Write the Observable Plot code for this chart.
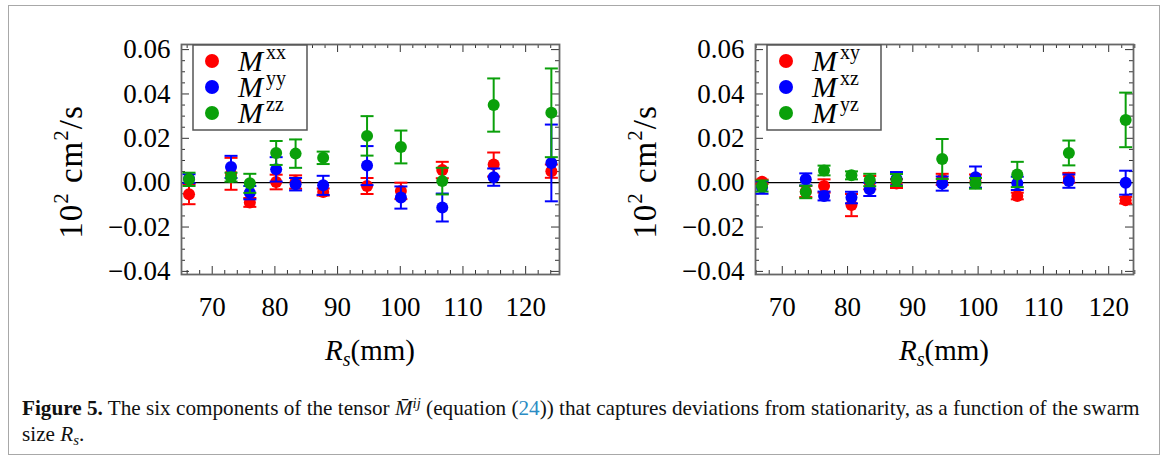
<!DOCTYPE html>
<html><head><meta charset="utf-8">
<script src="https://cdn.jsdelivr.net/npm/d3@7"></script>
<script src="https://cdn.jsdelivr.net/npm/@observablehq/plot@0.6"></script>
<style>
body{margin:0;background:#fff;}
#fig{position:relative;width:1168px;height:465px;overflow:hidden;font-family:"Liberation Serif",serif;background:#fff;}
#border{position:absolute;left:8px;top:5px;width:1150px;height:448px;border:1.5px solid #a8a8a8;}
.panel{position:absolute;top:0;}
#caption{position:absolute;left:22px;top:396px;font-size:21.2px;line-height:24px;color:#111;white-space:nowrap;}
#caption sup{font-size:0.7em;vertical-align:0;position:relative;top:-0.5em;}
#caption sub{font-size:0.7em;vertical-align:0;position:relative;top:0.25em;}
</style></head><body>
<div id="fig">
<div id="border"></div>
<div id="left" class="panel" style="left:0px"></div>
<div id="right" class="panel" style="left:580px"></div>
<div id="caption"><b>Figure 5.</b> The six components of the tensor <i>M̄</i><sup><i>ij</i></sup> (equation (<span style="color:#2b8cc4">24</span>)) that captures deviations from stationarity, as a function of the swarm<br>size <i>R<sub>s</sub></i>.</div>
</div>
<script>
// ---- data ----
const RsLeft  = [66.3, 73.0, 76.0, 80.2, 83.3, 87.7, 94.7, 100.1, 106.7, 114.9, 124.1];
const RsRight = [66.9, 73.6, 76.4, 80.6, 83.4, 87.5, 94.5, 99.6, 106.0, 113.9, 122.6];

const Mxx    = [-0.0052, 0.0040, -0.0089, 0.0003, 0.0003, -0.0042, -0.0015, -0.0037, 0.0057, 0.0082, 0.0052];
const MxxErr = [0.0045, 0.0072, 0.0020, 0.0033, 0.0030, 0.0016, 0.0036, 0.0037, 0.0037, 0.0054, 0.0030];
const Myy    = [0.0018, 0.0071, -0.0045, 0.0060, -0.0007, -0.0012, 0.0077, -0.0067, -0.0112, 0.0025, 0.0089];
const MyyErr = [0.0020, 0.0050, 0.0030, 0.0055, 0.0028, 0.0043, 0.0088, 0.0050, 0.0063, 0.0039, 0.0173];
const Mzz    = [0.0015, 0.0025, -0.0003, 0.0134, 0.0131, 0.0112, 0.0211, 0.0161, 0.0007, 0.0350, 0.0315];
const MzzErr = [0.0030, 0.0020, 0.0043, 0.0054, 0.0064, 0.0028, 0.0089, 0.0074, 0.0060, 0.0120, 0.0200];

const Mxy    = [0.0004, -0.0040, -0.0015, -0.0101, 0.0000, -0.0004, 0.0015, 0.0007, -0.0060, 0.0022, -0.0079];
const MxyErr = [0.0010, 0.0025, 0.0030, 0.0050, 0.0030, 0.0020, 0.0025, 0.0030, 0.0015, 0.0022, 0.0015];
const Mxz    = [-0.0022, 0.0015, -0.0060, -0.0067, -0.0030, 0.0018, -0.0004, 0.0025, -0.0003, 0.0007, 0.0000];
const MxzErr = [0.0028, 0.0027, 0.0020, 0.0026, 0.0030, 0.0030, 0.0032, 0.0048, 0.0030, 0.0030, 0.0054];
const Myz    = [-0.0015, -0.0042, 0.0055, 0.0033, 0.0012, 0.0012, 0.0107, -0.0003, 0.0037, 0.0134, 0.0283];
const MyzErr = [0.0025, 0.0028, 0.0022, 0.0018, 0.0028, 0.0027, 0.0090, 0.0024, 0.0057, 0.0056, 0.0123];

const labelsLeft  = ["xx", "yy", "zz"];
const labelsRight = ["xy", "xz", "yz"];
const colors = ["#ff0000", "#0000ff", "#0aa00a"];

const xMajor = [70, 80, 90, 100, 110, 120];
const xMinor = [66, 68, 72, 74, 76, 78, 82, 84, 86, 88, 92, 94, 96, 98, 102, 104, 106, 108, 112, 114, 116, 118, 122, 124];
const yMajor = [-0.04, -0.02, 0, 0.02, 0.04, 0.06];
const yMinor = [-0.035, -0.03, -0.025, -0.015, -0.01, -0.005, 0.005, 0.01, 0.015, 0.025, 0.03, 0.035, 0.045, 0.05, 0.055];

// ---- drawing ----
const FONT = "Liberation Serif";
const capSymbol = {draw(ctx, size) { const r = Math.sqrt(size / Math.PI); ctx.moveTo(-r, 0); ctx.lineTo(r, 0); }};

function makePanel({el, Rs, vals, errs, labels, xDomain, yDomain, width, marginLeft, marginRight}) {
  const height = 380, marginTop = 44, marginBottom = 106;
  const frameH = height - marginTop - marginBottom;
  const frameW = width - marginLeft - marginRight;
  const tickC = "#333";
  const marks = [
    Plot.tickX(xMajor, {x: d => d, insetTop: frameH - 8, stroke: tickC}),
    Plot.tickX(xMinor, {x: d => d, insetTop: frameH - 4, stroke: tickC}),
    Plot.tickX(xMajor, {x: d => d, insetBottom: frameH - 8, stroke: tickC}),
    Plot.tickX(xMinor, {x: d => d, insetBottom: frameH - 4, stroke: tickC}),
    Plot.tickY(yMajor, {y: d => d, insetRight: frameW - 8, stroke: tickC}),
    Plot.tickY(yMinor, {y: d => d, insetRight: frameW - 4, stroke: tickC}),
    Plot.tickY(yMajor, {y: d => d, insetLeft: frameW - 8, stroke: tickC}),
    Plot.tickY(yMinor, {y: d => d, insetLeft: frameW - 4, stroke: tickC}),
    Plot.ruleY([0], {stroke: "black", strokeWidth: 1.3}),
    Plot.frame({stroke: "#666", strokeWidth: 1.8}),
    Plot.axisX(xMajor, {tickSize: 0, tickPadding: 22, fontSize: 27, fontFamily: FONT, label: null}),
    Plot.axisY(yMajor, {tickSize: 0, tickPadding: 11, fontSize: 27, fontFamily: FONT, label: null, tickFormat: d3.format(".2f")})
  ];
  vals.forEach((v, s) => {
    const data = Rs.map((x, i) => ({x, v: v[i], e: errs[s][i]}));
    const c = colors[s];
    marks.push(
      Plot.ruleX(data, {x: "x", y1: d => d.v - d.e, y2: d => d.v + d.e, stroke: c, strokeWidth: 2}),
      Plot.dot(data, {x: "x", y: d => d.v + d.e, symbol: capSymbol, r: 6.5, stroke: c, strokeWidth: 2, fill: "none"}),
      Plot.dot(data, {x: "x", y: d => d.v - d.e, symbol: capSymbol, r: 6.5, stroke: c, strokeWidth: 2, fill: "none"}),
      Plot.dot(data, {x: "x", y: "v", r: 6, fill: c, stroke: "none"})
    );
  });
  const plot = Plot.plot({
    width, height, marginLeft, marginRight, marginTop, marginBottom,
    x: {domain: xDomain}, y: {domain: yDomain},
    style: {fontFamily: FONT, fontSize: "27px", color: "black", background: "transparent", overflow: "visible"},
    marks
  });
  const svg = d3.select(plot);
  // legend
  const bx = marginLeft + 12, by = marginTop + 1, bw = 114, bh = 85;
  const g = svg.append("g").attr("font-family", FONT).attr("text-anchor", "start");
  g.append("rect").attr("x", bx).attr("y", by).attr("width", bw).attr("height", bh)
    .attr("fill", "white").attr("stroke", "#555").attr("stroke-width", 1.5);
  labels.forEach((lab, i) => {
    const cy = by + 16 + i * 26;
    g.append("circle").attr("cx", bx + 19).attr("cy", cy).attr("r", 7).attr("fill", colors[i]);
    const t = g.append("text").attr("x", bx + 45).attr("y", cy + 10).attr("font-size", 30).attr("text-anchor", "start");
    t.append("tspan").attr("font-style", "italic").text("M");
    t.append("tspan").attr("font-size", 20).attr("dx", 3).attr("dy", -12).text(lab);
  });
  // y label
  const yl = svg.append("text").attr("transform", `translate(${marginLeft - 99},${172}) rotate(-90)`)
    .attr("text-anchor", "middle").attr("font-size", 33).attr("font-family", FONT).attr("letter-spacing", 1);
  yl.append("tspan").text("10");
  yl.append("tspan").attr("font-size", 21).attr("dy", -14).text("2");
  yl.append("tspan").attr("dy", 14).text(" cm");
  yl.append("tspan").attr("font-size", 21).attr("dy", -14).text("2");
  yl.append("tspan").attr("dy", 14).text("/s");
  // x label
  const xl = svg.append("text").attr("x", marginLeft + frameW / 2).attr("y", 360)
    .attr("text-anchor", "middle").attr("font-size", 29).attr("font-family", FONT);
  xl.append("tspan").attr("font-style", "italic").text("R");
  xl.append("tspan").attr("font-style", "italic").attr("font-size", 20).attr("dy", 6).text("s");
  xl.append("tspan").attr("dy", -6).text("(mm)");
  document.getElementById(el).appendChild(plot);
}

makePanel({el: "left", Rs: RsLeft, vals: [Mxx, Myy, Mzz], errs: [MxxErr, MyyErr, MzzErr], labels: labelsLeft,
  xDomain: [65.1, 125.4], yDomain: [-0.0414, 0.0623], width: 590, marginLeft: 181, marginRight: 31});
makePanel({el: "right", Rs: RsRight, vals: [Mxy, Mxz, Myz], errs: [MxyErr, MxzErr, MyzErr], labels: labelsRight,
  xDomain: [65.9, 123.8], yDomain: [-0.0414, 0.0623], width: 588, marginLeft: 175, marginRight: 35});
</script>
</body></html>
